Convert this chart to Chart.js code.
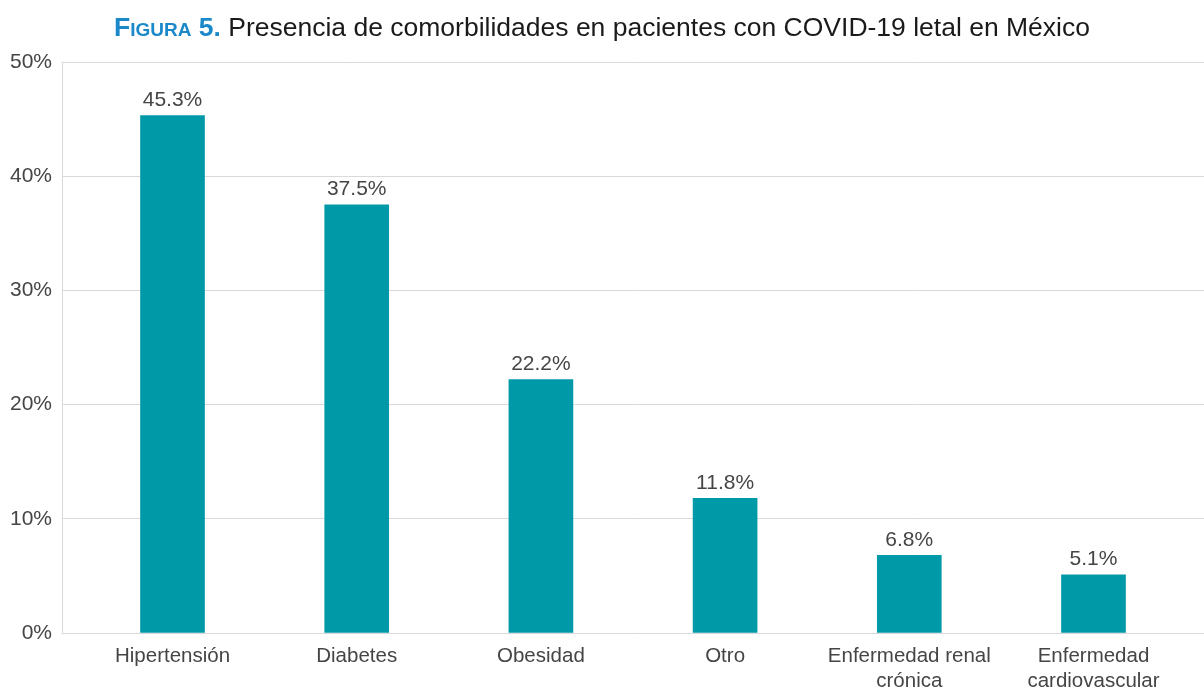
<!DOCTYPE html>
<html>
<head>
<meta charset="utf-8">
<script src="https://cdn.jsdelivr.net/npm/chart.js@4/dist/chart.umd.min.js"></script>
<style>
  html, body { margin: 0; padding: 0; background: #fff; }
  #wrap { position: relative; width: 1204px; height: 688px; }
  #titulo {
    position: absolute; left: 0; top: 12px; width: 1204px; text-align: center;
    font-family: "Liberation Sans", Arial, sans-serif; font-size: 26.5px; color: #1a1a1a;
    z-index: 1;
  }
  #titulo span { color: #1a88c9; font-weight: bold; font-variant: small-caps; }
  canvas { position: absolute; left: 0; top: 0; }
</style>
</head>
<body>
<div id="wrap">
  <div id="titulo"><span>Figura 5.</span> Presencia de comorbilidades en pacientes con COVID-19 letal en México</div>
  <canvas id="myChart" width="1204" height="688"></canvas>
</div>
<script>
// Comorbilidades (porcentaje de pacientes)
const categorias = [
  "Hipertensión",
  "Diabetes",
  "Obesidad",
  "Otro",
  ["Enfermedad renal", "crónica"],
  ["Enfermedad", "cardiovascular"]
];
const porcentajes = [45.3, 37.5, 22.2, 11.8, 6.8, 5.1];
const ticksY = [0, 10, 20, 30, 40, 50];

const FUENTE = "'Liberation Sans', Arial, sans-serif";
const GRIS_TEXTO = "#454545";

// etiquetas de valor encima de cada barra
const etiquetasValor = {
  id: "etiquetasValor",
  afterDatasetsDraw(chart) {
    const ctx = chart.ctx;
    const meta = chart.getDatasetMeta(0);
    ctx.save();
    ctx.font = "21px " + FUENTE;
    ctx.fillStyle = GRIS_TEXTO;
    ctx.textAlign = "center";
    ctx.textBaseline = "bottom";
    meta.data.forEach((bar, i) => {
      ctx.fillText(porcentajes[i].toFixed(1) + "%", bar.x, bar.y - 5);
    });
    ctx.restore();
  }
};

const ctx = document.getElementById("myChart").getContext("2d");
new Chart(ctx, {
  type: "bar",
  data: {
    datasets: [{
      data: porcentajes.map((v, i) => ({ x: i, y: v })),
      backgroundColor: "#0099a7",
      barThickness: 64
    }]
  },
  options: {
    responsive: false,
    animation: false,
    layout: { padding: { top: 62, left: 0, right: 0, bottom: 0 } },
    plugins: { legend: { display: false }, tooltip: { enabled: false } },
    scales: {
      x: {
        type: "linear",
        min: -0.6,
        max: 5.6,
        offset: false,
        grid: { display: false },
        border: { display: false },
        afterBuildTicks(scale) {
          scale.ticks = categorias.map((_, i) => ({ value: i }));
        },
        afterFit(scale) { scale.height = 55; },
        ticks: {
          autoSkip: false,
          maxRotation: 0,
          padding: 3,
          color: GRIS_TEXTO,
          font: { family: FUENTE, size: 20.5, lineHeight: 1.22 },
          callback: (v) => categorias[v]
        }
      },
      y: {
        min: 0,
        max: 50,
        afterBuildTicks(scale) {
          scale.ticks = ticksY.map(v => ({ value: v }));
        },
        afterFit(scale) { scale.width = 62; },
        grid: { color: "#d9d9d9", drawTicks: false, lineWidth: 1 },
        border: { color: "#d9d9d9" },
        ticks: {
          padding: 10,
          color: GRIS_TEXTO,
          font: { family: FUENTE, size: 21 },
          callback: (v) => v + "%"
        }
      }
    }
  },
  plugins: [etiquetasValor]
});
</script>
</body>
</html>
